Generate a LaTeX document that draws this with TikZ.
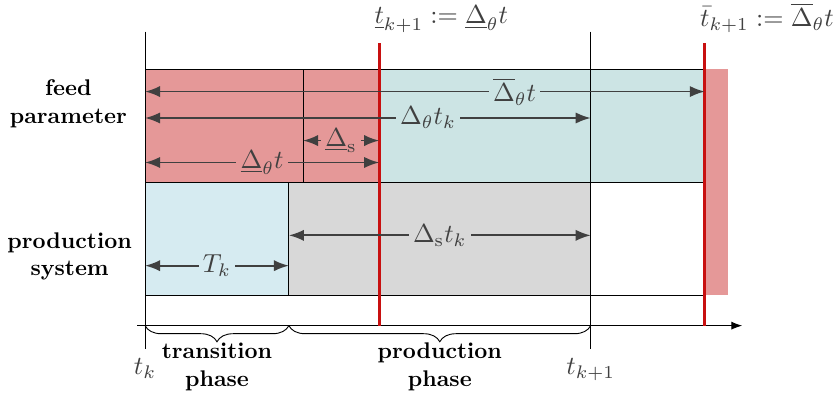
\documentclass[tikz,border=0pt]{standalone}
\usepackage{amsmath}
\usetikzlibrary{arrows.meta,decorations.pathreplacing}

\definecolor{feedred}{RGB}{229,152,152}
\definecolor{feedteal}{RGB}{204,228,228}
\definecolor{transblue}{RGB}{214,235,241}
\definecolor{prodgray}{RGB}{216,216,216}
\definecolor{limitred}{RGB}{200,16,16}
\definecolor{dimgray}{RGB}{64,64,64}

\begin{document}
\begin{tikzpicture}[every node/.style={font=\normalsize},
  dim/.style={<->, >=Latex, thick, dimgray},
  mlbl/.style={text=dimgray, scale=1.15},
  lbl/.style={mlbl, inner sep=1.7pt},
  limit/.style={limitred, line width=1.2pt},
  rowname/.style={font=\bfseries, align=center}]
  \useasboundingbox (-2.25,-1.07) rectangle (10.73,5.05);

  % Instantes sobre el eje
  \path (0,0)    coordinate (tk);
  \path (2.23,0) coordinate (tT);
  \path (2.45,0) coordinate (tS);
  \path (3.63,0) coordinate (tlow);
  \path (6.91,0) coordinate (tnext);
  \path (8.68,0) coordinate (tup);
  \path (9.04,0) coordinate (tend);

  % Alturas
  \path (0,4.56)  coordinate (yTop);
  \path (0,4.39)  coordinate (yRed);
  \path (0,3.98)  coordinate (yFtop);
  \path (0,3.63)  coordinate (yBar);
  \path (0,3.22)  coordinate (yMid);
  \path (0,2.87)  coordinate (ySw);
  \path (0,2.53)  coordinate (yLow);
  \path (0,2.22)  coordinate (yFbot);
  \path (0,1.40)  coordinate (yProd);
  \path (0,0.93)  coordinate (yTrans);
  \path (0,0.47)  coordinate (yPbot);
  \path (0,-0.36) coordinate (yBot);

  % Fila de parametros
  \fill[feedred]  (tk |- yFbot) rectangle (tlow |- yFtop);
  \fill[feedteal] (tlow |- yFbot) rectangle (tup |- yFtop);
  \fill[feedred]  (tup |- yPbot) rectangle (tend |- yFtop);
  \draw (tk |- yFbot) rectangle (tup |- yFtop);
  \draw (tS |- yFbot) -- (tS |- yFtop);

  % Fila del sistema
  \fill[transblue] (tk |- yPbot) rectangle (tT |- yFbot);
  \fill[prodgray]  (tT |- yPbot) rectangle (tnext |- yFbot);
  \draw (tk |- yPbot) rectangle (tup |- yFbot);
  \draw (tT |- yPbot) -- (tT |- yFbot);

  % Eje de tiempo
  \draw[->, >=Latex] (-0.12,0) -- (9.26,0);
  \draw (tk |- yTop) -- (tk |- yBot) node (lblTk) [below, mlbl] {$t_k$};
  \draw (tnext |- yTop) -- (tnext |- yBot) node (lblTnext) [below, mlbl] {$t_{k+1}$};

  % Limites
  \draw[limit] (tlow) -- (tlow |- yRed)
    node (lblLow) [anchor=south west, xshift=-0.23cm, mlbl] {$\underline{t}_{k+1} := \underline{\Delta}_\theta t$};
  \draw[limit] (tup) -- (tup |- yRed)
    node (lblUp) [anchor=south west, xshift=-0.23cm, mlbl] {$\bar{t}_{k+1} := \overline{\Delta}_\theta t$};

  % Cotas
  \draw[dim] (tk |- yBar) -- node (lblBar) [lbl, pos=0.66, fill=feedteal] {$\overline{\Delta}_\theta t$} (tup |- yBar);
  \draw[dim] (tk |- yMid) -- node (lblMid) [lbl, pos=0.635, fill=feedteal] {$\Delta_\theta t_k$} (tnext |- yMid);
  \draw[dim] (tS |- ySw) -- node (lblSw) [lbl, fill=feedred] {$\underline{\Delta}_\mathrm{s}$} (tlow |- ySw);
  \draw[dim] (tk |- yLow) -- node (lblLowDim) [lbl, fill=feedred] {$\underline{\Delta}_\theta t$} (tlow |- yLow);
  \draw[dim] (tT |- yProd) -- node (lblProd) [lbl, fill=prodgray] {$\Delta_\mathrm{s} t_k$} (tnext |- yProd);
  \draw[dim] (tk |- yTrans) -- node (lblTrans) [lbl, fill=transblue] {$T_k$} (tT |- yTrans);

  % Fases
  \draw[decorate, decoration={brace, mirror, amplitude=0.25cm}] (tk) -- (tT)
    node (phTrans) [midway, yshift=-0.64cm, rowname] {transition\\phase};
  \draw[decorate, decoration={brace, mirror, amplitude=0.25cm}] (tT) -- (tnext)
    node (phProd) [midway, yshift=-0.64cm, rowname] {production\\phase};

  % Nombres de filas
  \node (rowFeed) [rowname] at (-1.19,3.44) {feed\\parameter};
  \node (rowProd) [rowname] at (-1.17,1.07) {production\\system};
\end{tikzpicture}
\end{document}
